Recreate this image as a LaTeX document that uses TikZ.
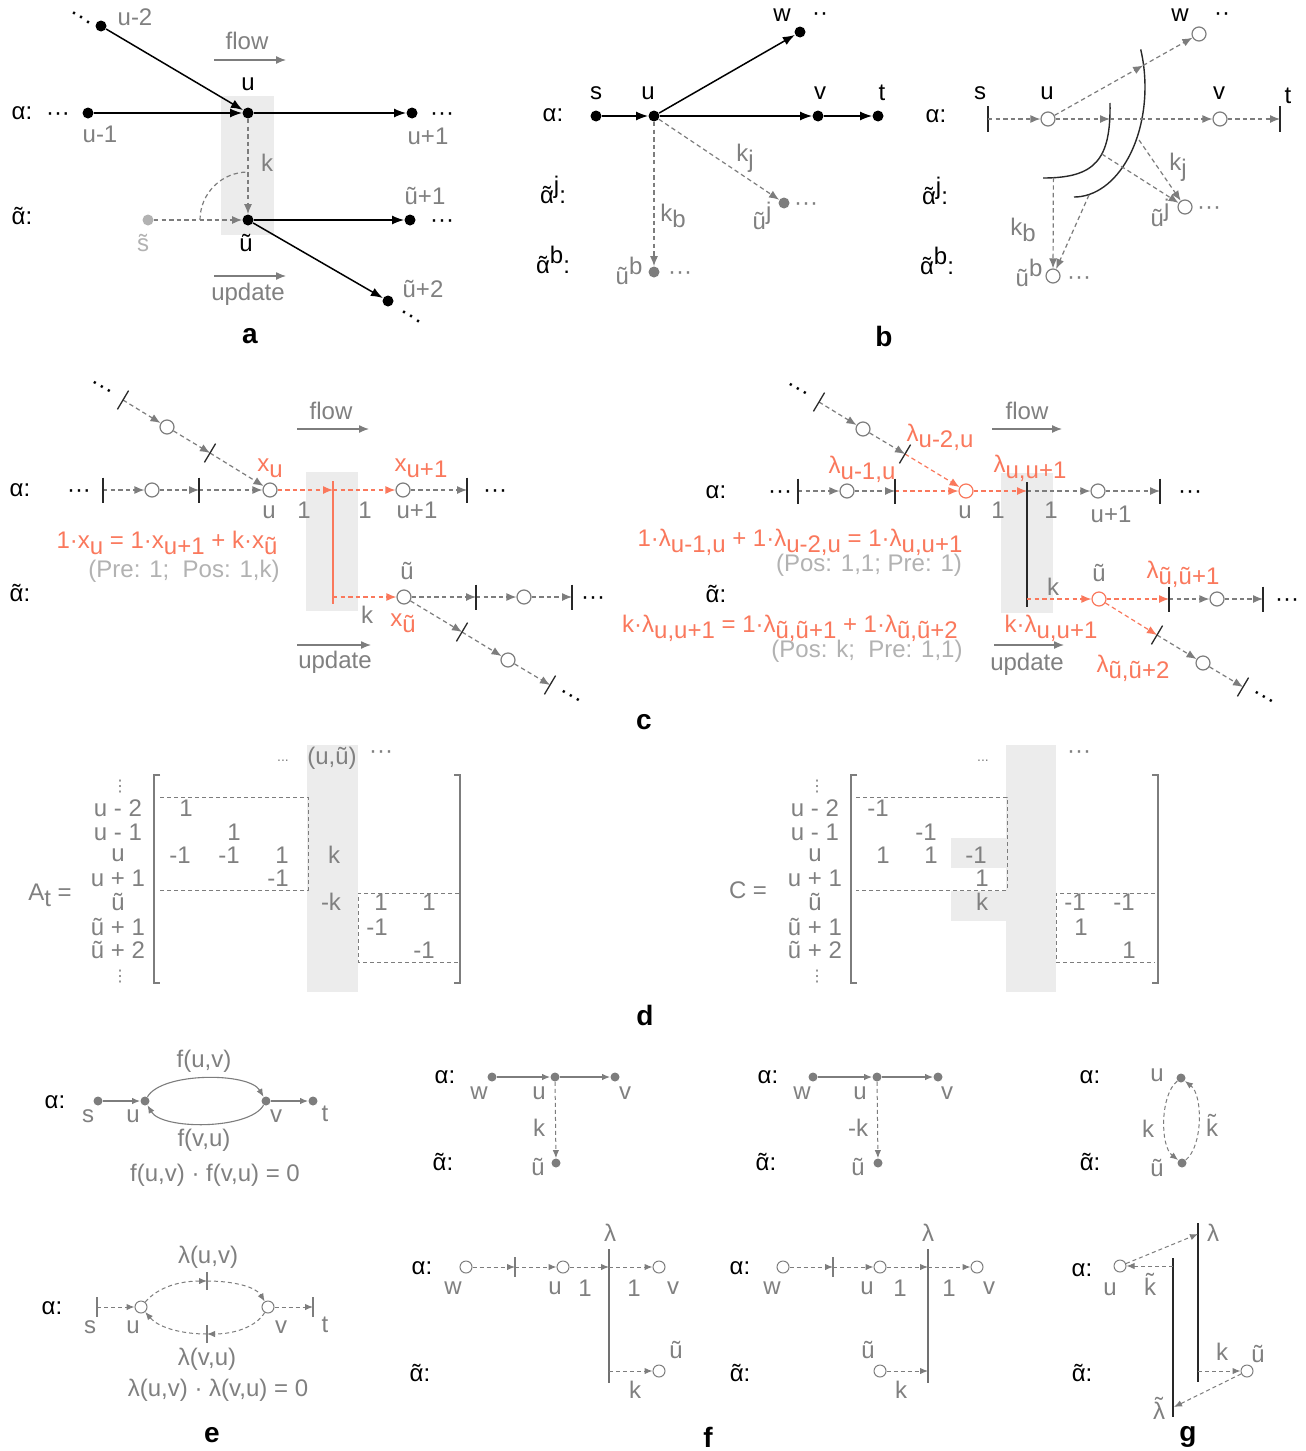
\documentclass[tikz,border=0pt]{standalone}
\usepackage{fontspec}
\setmainfont{Liberation Sans}
\newfontfamily\dvfont{DejaVu Sans}
\usetikzlibrary{arrows.meta,calc}
\definecolor{tg}{RGB}{128,128,128}
\definecolor{lg}{RGB}{178,178,178}
\definecolor{rd}{RGB}{250,120,92}
\definecolor{bx}{RGB}{236,236,236}
\definecolor{ng}{RGB}{125,125,125}
\definecolor{dk}{RGB}{40,40,40}
\newcommand\sbs[1]{\raisebox{-0.55ex}{#1}}
\newcommand\sps[1]{\raisebox{0.75ex}{#1}}
\newcommand\lfont{\fontsize{12}{14}\selectfont}
\newcommand\tld[2][0pt]{{\setbox0\hbox{#2}\rlap{\hbox to\wd0{\hss\raisebox{#1}{^^^^02dc}\hss}}\box0}}
\newcommand\myat{\tld{α}}
\newcommand\myst{\tld{s}}
\newcommand\mykt{\tld[0.21em]{k}}
\newcommand\mylt{\tld[0.21em]{λ}}
\newcommand\mybar[2]{\draw[tick] ([yshift=#2pt]#1) -- ([yshift=-#2pt]#1);}
\newcommand\mygbar[2]{\draw[gtick] ([yshift=#2pt]#1) -- ([yshift=-#2pt]#1);}
\newcommand\myslash[1]{\draw[tick] ([shift={(-5.6,9.4)}]#1) -- ([shift={(5.6,-9.4)}]#1);}
\begin{document}
\begin{tikzpicture}[x=0.5pt,y=-0.5pt,
  lab/.style={font=\lfont, text=tg, inner sep=0pt},
  blab/.style={font=\lfont, text=black, inner sep=0pt},
  rlab/.style={font=\lfont, text=rd, inner sep=0pt},
  llab/.style={font=\lfont, text=lg, inner sep=0pt},
  dots/.style={font=\lfont, text=black, inner sep=0pt, anchor=base},
  gdots/.style={dots, text=tg},
  plet/.style={font=\fontsize{14}{16}\selectfont\bfseries, text=black, inner sep=0pt},
  vd/.style={font=\dvfont\fontsize{8}{8}\selectfont, text=tg, inner sep=0pt},
  bdot/.style={circle, fill=black, inner sep=0pt, minimum size=5.5pt},
  gdot/.style={circle, fill=ng, inner sep=0pt, minimum size=5.5pt},
  ldot/.style={circle, fill=lg, inner sep=0pt, minimum size=5.5pt},
  sdot/.style={circle, fill=ng, inner sep=0pt, minimum size=4.5pt},
  ocirc/.style={circle, draw=ng, fill=white, line width=0.6pt, inner sep=0pt, minimum size=7pt},
  rcirc/.style={ocirc, draw=rd},
  socirc/.style={circle, draw=ng, fill=white, line width=0.5pt, inner sep=0pt, minimum size=6pt},
  arr/.style={-{Latex[length=6pt,width=4.5pt]}, line width=0.75pt, draw=black},
  garr/.style={-{Latex[length=5pt,width=4pt]}, line width=0.6pt, color=ng, dash pattern=on 2.2pt off 1.6pt},
  rarr/.style={garr, color=rd},
  sarr/.style={-{Latex[length=4pt,width=3.2pt]}, line width=0.55pt, color=ng},
  sgarr/.style={-{Latex[length=4pt,width=3.2pt]}, line width=0.5pt, color=ng, dash pattern=on 2pt off 1.5pt},
  farr/.style={-{Latex[length=5pt,width=4pt]}, line width=0.65pt, color=ng},
  tick/.style={line width=0.65pt, draw=dk},
  gtick/.style={line width=0.6pt, draw=ng},
  vl/.style={line width=0.7pt, draw=dk},
  gvl/.style={line width=0.7pt, draw=ng!90!black},
  brk/.style={line width=0.6pt, draw=ng},
  dbox/.style={line width=0.45pt, draw=ng, dash pattern=on 2pt off 1.5pt},
]
\fill[white] (0,0) rectangle (1306,1451);
\path[use as bounding box] (0,0) rectangle (1306,1451);

% ================= a
\fill[bx] (221,96) rectangle (274,235);
\node[blab] (a_al) at (22,113) {α:};
\node[blab] (a_al2) at (22,216) {\myat:};
\node[dots] (a_dl) at (58,120) {···};
\node[bdot] (a_um2) at (101,26) {};
\node[lab] (a_um2l) at (135,17) {u-2};
\node[blab, rotate=-35] (a_um2d) at (80,20) {···};
\node[bdot] (a_um1) at (88,113) {};
\node[lab] (a_um1l) at (100,134) {u-1};
\node[bdot] (a_u) at (248,113) {};
\node[blab] (a_ul) at (248,84) {u};
\node[bdot] (a_up1) at (412,113) {};
\node[lab] (a_up1l) at (428,136) {u+1};
\node[dots] (a_up1d) at (442,120) {···};
\node[ldot] (a_s) at (148,220) {};
\node[llab] (a_sl) at (143,243) {\myst};
\node[bdot] (a_ut) at (248,220) {};
\node[blab] (a_utl) at (246,243) {ũ};
\node[bdot] (a_ut1) at (410,220) {};
\node[lab] (a_ut1l) at (425,196) {ũ+1};
\node[dots] (a_ut1d) at (442,227) {···};
\node[bdot] (a_ut2) at (388,301) {};
\node[lab] (a_ut2l) at (423,289) {ũ+2};
\node[blab, rotate=-35] (a_ut2d) at (410,319) {···};
\node[lab] (a_k) at (267,163) {k};
\node[lab] (a_flow) at (247,41) {flow};
\node[lab] (a_upd) at (248,294) {update};
\node[plet] (a_let) at (250,336) {a};
\coordinate (a_f1) at (214,60); \coordinate (a_f2) at (286,60);
\coordinate (a_p1) at (214,276); \coordinate (a_p2) at (286,276);
\coordinate (a_arc) at (200,220);
\draw[farr] (a_f1) -- (a_f2);
\draw[farr] (a_p1) -- (a_p2);
\draw[arr] (a_um2) -- (a_u);
\draw[arr] (a_um1) -- (a_u);
\draw[arr] (a_u) -- (a_up1);
\draw[arr] (a_ut) -- (a_ut1);
\draw[arr] (a_ut) -- (a_ut2);
\draw[garr] (a_u) -- (a_ut);
\draw[garr] (a_s) -- (a_ut);
\draw[garr, -] (a_arc) arc[start angle=180, end angle=270, radius=48];

% ================= b left
\node[blab] (b_al) at (553,115) {α:};
\node[blab, anchor=base] (b_alj) at (553,203) {\myat\sps{j}:};
\node[blab, anchor=base] (b_alb) at (553,273) {\myat\sps{b}:};
\node[bdot] (b_s) at (596,116) {};
\node[blab] (b_sl) at (596,93) {s};
\node[bdot] (b_u) at (654,116) {};
\node[blab] (b_ul) at (648,93) {u};
\node[bdot] (b_v) at (818,116) {};
\node[blab] (b_vl) at (820,93) {v};
\node[bdot] (b_t) at (878,116) {};
\node[blab] (b_tl) at (882,93) {t};
\node[bdot] (b_w) at (800,32) {};
\node[blab] (b_wl) at (782,15) {w};
\node[blab] (b_wd) at (820,17) {··};
\node[gdot] (b_uj) at (784,203) {};
\node[lab, anchor=base] (b_ujl) at (762,229) {ũ\sps{j}};
\node[gdots] (b_ujd) at (806,210) {···};
\node[gdot] (b_ub) at (654,272) {};
\node[lab, anchor=base] (b_ubl) at (629,284) {ũ\sps{b}};
\node[gdots] (b_ubd) at (680,279) {···};
\node[lab, anchor=base] (b_kj) at (745,161) {k\sbs{j}};
\node[lab, anchor=base] (b_kb) at (673,221) {k\sbs{b}};
\draw[arr] (b_s) -- (b_u);
\draw[arr] (b_u) -- (b_v);
\draw[arr] (b_v) -- (b_t);
\draw[arr] (b_u) -- (b_w);
\draw[garr] (b_u) -- (b_uj);
\draw[garr] (b_u) -- (b_ub);

% ================= b right
\node[blab] (br_al) at (936,116) {α:};
\node[blab, anchor=base] (br_alj) at (935,204) {\myat\sps{j}:};
\node[blab, anchor=base] (br_alb) at (937,274) {\myat\sps{b}:};
\coordinate (br_s) at (988,119);
\node[blab] (br_sl) at (980,93) {s};
\node[ocirc] (br_u) at (1048,119) {};
\node[blab] (br_ul) at (1047,93) {u};
\coordinate (br_m) at (1110,119);
\node[ocirc] (br_v) at (1220,119) {};
\node[blab] (br_vl) at (1219,93) {v};
\coordinate (br_t) at (1280,119);
\node[blab] (br_tl) at (1288,96) {t};
\node[ocirc] (br_w) at (1199,34) {};
\node[blab] (br_wl) at (1180,15) {w};
\node[blab] (br_wd) at (1222,17) {··};
\node[ocirc] (br_uj) at (1185,207) {};
\node[lab, anchor=base] (br_ujl) at (1160,226) {ũ\sps{j}};
\node[gdots] (br_ujd) at (1209,214) {···};
\node[ocirc] (br_ub) at (1053,276) {};
\node[lab, anchor=base] (br_ubl) at (1029,286) {ũ\sps{b}};
\node[gdots] (br_ubd) at (1079,284) {···};
\node[lab, anchor=base] (br_kj) at (1178,170) {k\sbs{j}};
\node[lab, anchor=base] (br_kb) at (1023,235) {k\sbs{b}};
\draw[vl] (1110,103) .. controls (1111,160) and (1095,178) .. (1043,178)
   coordinate[pos=0.4] (br_ia) coordinate[pos=0.93] (br_ie);
\draw[vl] (1140.7,49.4) arc[start angle=-20, end angle=90, x radius=71, y radius=110];
\coordinate (br_oa) at (1139,140);
\coordinate (br_ob) at (1089,195);
\coordinate (br_wx) at ($(br_u)!0.63!(br_w)$);
\mybar{br_s}{6.5}
\mybar{br_t}{6.5}
\draw[garr] (br_s) -- (br_u);
\draw[garr] (br_u) -- (br_m);
\draw[garr] (br_m) -- (br_v);
\draw[garr] (br_v) -- (br_t);
\draw[garr] (br_u) -- (br_wx);
\draw[garr] (br_wx) -- (br_w);
\draw[garr] (br_ia) -- (br_uj);
\draw[garr] (br_oa) -- (br_uj);
\draw[garr] (br_ie) -- (br_ub);
\draw[garr] (br_ob) -- (br_ub);
\node[plet] (b_let) at (884,336) {b};

% ================= c left
\fill[bx] (306,472) rectangle (358,611);
\node[blab, rotate=-31] (cl_d0) at (101,389) {···};
\coordinate (cl_s1) at (123,400);
\node[ocirc] (cl_c1) at (167,427) {};
\coordinate (cl_s2) at (210,453);
\node[ocirc] (cl_u) at (270,490) {};
\node[blab] (cl_al) at (20,490) {α:};
\node[dots] (cl_d1) at (79,497) {···};
\coordinate (cl_b1) at (103,490);
\node[ocirc] (cl_c2) at (152,490) {};
\coordinate (cl_b2) at (199,490);
\coordinate (cl_r) at (333,490);
\node[ocirc] (cl_up1) at (403,490) {};
\coordinate (cl_b3) at (467,490);
\node[dots] (cl_d2) at (495,497) {···};
\coordinate (cl_rt) at (333,481);
\coordinate (cl_rb) at (333,604);
\node[blab] (cl_al2) at (20,593) {\myat:};
\coordinate (cl_r2) at (333,597);
\node[ocirc] (cl_ut) at (404,597) {};
\coordinate (cl_b4) at (476,597);
\node[ocirc] (cl_c3) at (524,597) {};
\coordinate (cl_b5) at (572,597);
\node[dots] (cl_d3) at (593,604) {···};
\coordinate (cl_s3) at (462,632);
\node[ocirc] (cl_c4) at (508,660) {};
\coordinate (cl_s4) at (550,685);
\node[blab, rotate=-31] (cl_d4) at (570,698) {···};
\node[rlab, anchor=base] (cl_xu) at (270,471) {x\sbs{u}};
\node[rlab, anchor=base] (cl_xu1) at (421,471) {x\sbs{u+1}};
\node[lab] (cl_ul) at (269,512) {u};
\node[lab] (cl_1a) at (304,510) {1};
\node[lab] (cl_1b) at (365,510) {1};
\node[lab] (cl_up1l) at (417,510) {u+1};
\node[rlab, anchor=base] (cl_eq) at (167,548) {1·x\sbs{u} = 1·x\sbs{u+1} + k·x\sbs{ũ}};
\node[llab] (cl_pp) at (184,571) {(Pre: 1;\ \ Pos: 1,k)};
\node[lab] (cl_utl) at (407,571) {ũ};
\node[lab] (cl_k) at (367,615) {k};
\node[rlab, anchor=base] (cl_xut) at (403,626) {x\sbs{ũ}};
\node[lab] (cl_flow) at (331,411) {flow};
\node[lab] (cl_upd) at (335,662) {update};
\coordinate (cl_f1) at (297,429); \coordinate (cl_f2) at (369,429);
\coordinate (cl_p1) at (297,645); \coordinate (cl_p2) at (371,645);
\draw[farr] (cl_f1) -- (cl_f2);
\draw[farr] (cl_p1) -- (cl_p2);
\draw[garr] (cl_s1) -- (cl_c1);
\draw[garr] (cl_c1) -- (cl_s2);
\draw[garr] (cl_s2) -- (cl_u);
\draw[garr] (cl_b1) -- (cl_c2);
\draw[garr] (cl_c2) -- (cl_b2);
\draw[garr] (cl_b2) -- (cl_u);
\draw[rarr] (cl_u) -- (cl_r);
\draw[rarr] (cl_r) -- (cl_up1);
\draw[garr] (cl_up1) -- (cl_b3);
\draw[rd, line width=0.6pt] (cl_rt) -- (cl_rb);
\draw[rarr] (cl_r2) -- (cl_ut);
\draw[garr] (cl_ut) -- (cl_b4);
\draw[garr] (cl_b4) -- (cl_c3);
\draw[garr] (cl_c3) -- (cl_b5);
\draw[garr] (cl_ut) -- (cl_s3);
\draw[garr] (cl_s3) -- (cl_c4);
\draw[garr] (cl_c4) -- (cl_s4);
\mybar{cl_b1}{6.25} \mybar{cl_b2}{6.25} \mybar{cl_b3}{6.25}
\mybar{cl_b4}{6.25} \mybar{cl_b5}{6.25}
\myslash{cl_s1} \myslash{cl_s2} \myslash{cl_s3} \myslash{cl_s4}

% ================= c right
\fill[bx] (1001,473) rectangle (1053,613);
\node[blab, rotate=-31] (cr_d0) at (797,391) {···};
\coordinate (cr_s1) at (819,402);
\node[ocirc] (cr_c1) at (863,429) {};
\coordinate (cr_s2) at (905,454);
\node[rcirc] (cr_u) at (966,491) {};
\node[blab] (cr_al) at (716,492) {α:};
\node[dots] (cr_d1) at (780,498) {···};
\coordinate (cr_b1) at (798,491);
\node[ocirc] (cr_c2) at (847,491) {};
\coordinate (cr_b2) at (895,491);
\coordinate (cr_l) at (1027,491);
\node[ocirc] (cr_up1) at (1098,491) {};
\coordinate (cr_b3) at (1160,491);
\node[dots] (cr_d2) at (1190,498) {···};
\coordinate (cr_lt) at (1027,482);
\coordinate (cr_lb) at (1027,607);
\node[blab] (cr_al2) at (716,594) {\myat:};
\coordinate (cr_l2) at (1027,599);
\node[rcirc] (cr_ut) at (1099,599) {};
\coordinate (cr_b4) at (1169,599);
\node[ocirc] (cr_c3) at (1217,599) {};
\coordinate (cr_b5) at (1263,599);
\node[dots] (cr_d3) at (1287,606) {···};
\coordinate (cr_s3) at (1157,635);
\node[ocirc] (cr_c4) at (1203,663) {};
\coordinate (cr_s4) at (1243,687);
\node[blab, rotate=-31] (cr_d4) at (1263,699) {···};
\node[rlab, anchor=base] (cr_l2u) at (940,441) {λ\sbs{u-2,u}};
\node[rlab, anchor=base] (cr_l1u) at (862,473) {λ\sbs{u-1,u}};
\node[rlab, anchor=base] (cr_luu) at (1030,472) {λ\sbs{u,u+1}};
\node[lab] (cr_ul) at (965,512) {u};
\node[lab] (cr_1a) at (998,510) {1};
\node[lab] (cr_1b) at (1051,510) {1};
\node[lab] (cr_up1l) at (1111,514) {u+1};
\node[rlab, anchor=base] (cr_eq1) at (800,546) {1·λ\sbs{u-1,u} + 1·λ\sbs{u-2,u} = 1·λ\sbs{u,u+1}};
\node[llab] (cr_pp1) at (869,565) {(Pos: 1,1; Pre: 1)};
\node[lab] (cr_utl) at (1099,573) {ũ};
\node[lab] (cr_k) at (1053,587) {k};
\node[rlab, anchor=base] (cr_lt1) at (1183,578) {λ\sbs{ũ,ũ+1}};
\node[rlab, anchor=base] (cr_eq2) at (790,632) {k·λ\sbs{u,u+1} = 1·λ\sbs{ũ,ũ+1} + 1·λ\sbs{ũ,ũ+2}};
\node[llab] (cr_pp2) at (867,651) {(Pos: k;\ \ Pre: 1,1)};
\node[rlab, anchor=base] (cr_klu) at (1051,632) {k·λ\sbs{u,u+1}};
\node[rlab, anchor=base] (cr_lt2) at (1133,672) {λ\sbs{ũ,ũ+2}};
\node[lab] (cr_flow) at (1027,411) {flow};
\node[lab] (cr_upd) at (1027,664) {update};
\coordinate (cr_f1) at (992,429); \coordinate (cr_f2) at (1062,429);
\coordinate (cr_p1) at (994,645); \coordinate (cr_p2) at (1064,645);
\draw[farr] (cr_f1) -- (cr_f2);
\draw[farr] (cr_p1) -- (cr_p2);
\draw[garr] (cr_s1) -- (cr_c1);
\draw[garr] (cr_c1) -- (cr_s2);
\draw[rarr] (cr_s2) -- (cr_u);
\draw[garr] (cr_b1) -- (cr_c2);
\draw[garr] (cr_c2) -- (cr_b2);
\draw[rarr] (cr_b2) -- (cr_u);
\draw[rarr] (cr_u) -- (cr_l);
\draw[garr] (cr_l) -- (cr_up1);
\draw[garr] (cr_up1) -- (cr_b3);
\draw[vl] (cr_lt) -- (cr_lb);
\draw[rarr] (cr_l2) -- (cr_ut);
\draw[rarr] (cr_ut) -- (cr_b4);
\draw[garr] (cr_b4) -- (cr_c3);
\draw[garr] (cr_c3) -- (cr_b5);
\draw[rarr] (cr_ut) -- (cr_s3);
\draw[garr] (cr_s3) -- (cr_c4);
\draw[garr] (cr_c4) -- (cr_s4);
\mybar{cr_b1}{6.25} \mybar{cr_b2}{6.25} \mybar{cr_b3}{6.25}
\mybar{cr_b4}{6.25} \mybar{cr_b5}{6.25}
\myslash{cr_s1} \myslash{cr_s2} \myslash{cr_s3} \myslash{cr_s4}
\node[plet] (c_let) at (644,722) {c};

% ================= d
\fill[bx] (307,745) rectangle (358,992);
\draw[brk] (160,775) -- (154,775) -- (154,983) -- (160,983);
\draw[brk] (454,775) -- (460,775) -- (460,983) -- (454,983);
\draw[dbox] (160,797) -- (308,797) -- (308,890) -- (160,890);
\draw[dbox] (459,893) -- (358,893) -- (358,962) -- (459,962);
\node[lab, anchor=base] (d_A) at (50,900) {A\sbs{t} =};
\node[lab] (d_h1) at (283,761) {\fontsize{7}{8}\selectfont ...};
\node[lab] (d_h2) at (332,758) {(u,ũ)};
\node[gdots] (d_h3) at (381,758) {···};
\node[vd] (d_v1) at (120,787) {^^^^22ee};
\node[vd] (d_v2) at (120,977) {^^^^22ee};
\fill[bx] (1006,745) rectangle (1056,992);
\fill[bx] (951,838) rectangle (1006,868);
\fill[bx] (951,891) rectangle (1006,921);
\draw[brk] (857,775) -- (851,775) -- (851,983) -- (857,983);
\draw[brk] (1152,775) -- (1158,775) -- (1158,983) -- (1152,983);
\draw[dbox] (856,797) -- (1007,797) -- (1007,890) -- (856,890);
\draw[dbox] (1155,893) -- (1056,893) -- (1056,962) -- (1155,962);
\node[lab] (d_C) at (748,890) {C =};
\node[lab] (d_h4) at (983,761) {\fontsize{7}{8}\selectfont ...};
\node[gdots] (d_h5) at (1079,758) {···};
\node[vd] (d_v3) at (817,787) {^^^^22ee};
\node[vd] (d_v4) at (817,977) {^^^^22ee};
\foreach \n/\y/\t in {1/808/u - 2, 2/832/u - 1, 3/855/u, 4/878/u + 1, 5/902/ũ, 6/927/ũ + 1, 7/950/ũ + 2} {
  \node[lab] (d_ra\n) at (118,\y) {\t};
  \node[lab] (d_rc\n) at (815,\y) {\t};
}
\foreach \n/\x/\y/\t in {1/186/808/1, 2/234/832/1, 3/180/855/-1, 4/229/855/-1, 5/282/855/1, 6/334/855/k, 7/278/878/-1, 8/331/902/-k, 9/381/902/1, 10/429/902/1, 11/377/927/-1, 12/424/950/-1} {
  \node[lab] (d_ea\n) at (\x,\y) {\t};
}
\foreach \n/\x/\y/\t in {1/878/808/-1, 2/926/832/-1, 3/883/855/1, 4/931/855/1, 5/976/855/-1, 6/982/878/1, 7/982/902/k, 8/1075/902/-1, 9/1124/902/-1, 10/1081/927/1, 11/1129/950/1} {
  \node[lab] (d_ec\n) at (\x,\y) {\t};
}
\node[plet] (d_let) at (645,1015) {d};

% ================= e
\node[blab] (e_al) at (55,1102) {α:};
\node[sdot] (e_s) at (98,1101) {};
\node[sdot] (e_u) at (145,1101) {};
\node[sdot] (e_v) at (266,1101) {};
\node[sdot] (e_t) at (313,1101) {};
\node[lab] (e_sl) at (88,1116) {s};
\node[lab] (e_ul) at (133,1116) {u};
\node[lab] (e_vl) at (276,1116) {v};
\node[lab] (e_tl) at (325,1114) {t};
\node[lab] (e_fuv) at (204,1061) {f(u,v)};
\node[lab] (e_fvu) at (204,1140) {f(v,u)};
\node[lab] (e_eq1) at (215,1175) {f(u,v) · f(v,u) = 0};
\draw[sarr] (e_s) -- (e_u);
\draw[sarr] (e_v) -- (e_t);
\draw[sarr] (e_u) .. controls (162,1072) and (249,1072) .. (e_v);
\draw[sarr] (e_v) .. controls (249,1130) and (162,1130) .. (e_u);
\node[blab] (e_al2) at (52,1308) {α:};
\coordinate (e_sb) at (97,1307);
\node[socirc] (e_u2) at (141,1307) {};
\node[socirc] (e_v2) at (268,1307) {};
\coordinate (e_tb) at (313,1307);
\coordinate (e_top) at (207,1281);
\coordinate (e_bot) at (207,1334);
\node[lab] (e_sl2) at (90,1327) {s};
\node[lab] (e_ul2) at (133,1327) {u};
\node[lab] (e_vl2) at (281,1327) {v};
\node[lab] (e_tl2) at (325,1325) {t};
\node[lab] (e_luv) at (208,1257) {λ(u,v)};
\node[lab] (e_lvu) at (207,1359) {λ(v,u)};
\node[lab] (e_eq2) at (218,1390) {λ(u,v) · λ(v,u) = 0};
\draw[sgarr] (e_sb) -- (e_u2);
\draw[sgarr] (e_v2) -- (e_tb);
\draw[sgarr] (e_u2) .. controls (158,1287) and (180,1281) .. (e_top);
\draw[sgarr] (e_top) .. controls (234,1281) and (256,1287) .. (e_v2);
\draw[sgarr] (e_v2) .. controls (256,1327) and (234,1334) .. (e_bot);
\draw[sgarr] (e_bot) .. controls (180,1334) and (158,1327) .. (e_u2);
\mygbar{e_sb}{5} \mygbar{e_tb}{5} \mygbar{e_top}{4.5} \mygbar{e_bot}{4.5}
\node[plet] (e_let) at (212,1435) {e};

% ================= f
\node[blab] (f1_al) at (445,1077) {α:};
\node[sdot] (f1_w) at (492,1077) {};
\node[sdot] (f1_u) at (555,1077) {};
\node[sdot] (f1_v) at (615,1077) {};
\node[lab] (f1_wl) at (479,1093) {w};
\node[lab] (f1_ul) at (539,1093) {u};
\node[lab] (f1_vl) at (625,1093) {v};
\node[blab] (f1_al2) at (443,1162) {\myat:};
\node[sdot] (f1_ut) at (556,1163) {};
\node[lab] (f1_utl) at (538,1167) {ũ};
\node[lab] (f1_k) at (539,1128) {k};
\draw[sarr] (f1_w) -- (f1_u);
\draw[sarr] (f1_u) -- (f1_v);
\draw[sgarr] (f1_u) -- (f1_ut);

\node[blab] (f2_al) at (768,1077) {α:};
\node[sdot] (f2_w) at (813,1077) {};
\node[sdot] (f2_u) at (877,1077) {};
\node[sdot] (f2_v) at (938,1077) {};
\node[lab] (f2_wl) at (802,1093) {w};
\node[lab] (f2_ul) at (860,1093) {u};
\node[lab] (f2_vl) at (947,1093) {v};
\node[blab] (f2_al2) at (766,1162) {\myat:};
\node[sdot] (f2_ut) at (878,1163) {};
\node[lab] (f2_utl) at (858,1167) {ũ};
\node[lab] (f2_k) at (858,1128) {-k};
\draw[sarr] (f2_w) -- (f2_u);
\draw[sarr] (f2_u) -- (f2_v);
\draw[sgarr] (f2_u) -- (f2_ut);

\node[lab] (f3_lam) at (610,1233) {λ};
\node[blab] (f3_al) at (422,1268) {α:};
\node[socirc] (f3_w) at (466,1267) {};
\coordinate (f3_b) at (515,1267);
\node[socirc] (f3_u) at (563,1267) {};
\coordinate (f3_l) at (609,1267);
\node[socirc] (f3_v) at (659,1267) {};
\coordinate (f3_lt) at (609,1249);
\coordinate (f3_lb) at (609,1383);
\node[blab] (f3_al2) at (420,1373) {\myat:};
\coordinate (f3_l2) at (609,1371);
\node[socirc] (f3_ut) at (659,1371) {};
\node[lab] (f3_wl) at (453,1288) {w};
\node[lab] (f3_ul) at (555,1288) {u};
\node[lab] (f3_1a) at (585,1288) {1};
\node[lab] (f3_1b) at (634,1288) {1};
\node[lab] (f3_vl) at (673,1288) {v};
\node[lab] (f3_utl) at (676,1350) {ũ};
\node[lab] (f3_k) at (635,1390) {k};
\draw[gvl] (f3_lt) -- (f3_lb);
\draw[sgarr] (f3_w) -- (f3_b);
\draw[sgarr] (f3_b) -- (f3_u);
\draw[sgarr] (f3_u) -- (f3_l);
\draw[sgarr] (f3_l) -- (f3_v);
\draw[sgarr] (f3_l2) -- (f3_ut);
\mygbar{f3_b}{5}

\node[lab] (f4_lam) at (928,1233) {λ};
\node[blab] (f4_al) at (740,1268) {α:};
\node[socirc] (f4_w) at (783,1267) {};
\coordinate (f4_b) at (833,1267);
\node[socirc] (f4_u) at (880,1267) {};
\coordinate (f4_l) at (928,1267);
\node[socirc] (f4_v) at (977,1267) {};
\coordinate (f4_lt) at (928,1249);
\coordinate (f4_lb) at (928,1383);
\node[blab] (f4_al2) at (740,1373) {\myat:};
\coordinate (f4_l2) at (928,1371);
\node[socirc] (f4_ut) at (880,1371) {};
\node[lab] (f4_wl) at (772,1288) {w};
\node[lab] (f4_ul) at (867,1288) {u};
\node[lab] (f4_1a) at (900,1288) {1};
\node[lab] (f4_1b) at (949,1288) {1};
\node[lab] (f4_vl) at (989,1288) {v};
\node[lab] (f4_utl) at (868,1350) {ũ};
\node[lab] (f4_k) at (901,1390) {k};
\draw[gvl] (f4_lt) -- (f4_lb);
\draw[sgarr] (f4_w) -- (f4_b);
\draw[sgarr] (f4_b) -- (f4_u);
\draw[sgarr] (f4_u) -- (f4_l);
\draw[sgarr] (f4_l) -- (f4_v);
\draw[sgarr] (f4_ut) -- (f4_l2);
\mygbar{f4_b}{5}
\node[plet] (f_let) at (708,1437) {f};

% ================= g
\node[blab] (g_al) at (1090,1077) {α:};
\node[sdot] (g_u) at (1181,1078) {};
\node[lab] (g_ul) at (1157,1075) {u};
\node[blab] (g_al2) at (1090,1162) {\myat:};
\node[sdot] (g_ut) at (1182,1163) {};
\node[lab] (g_utl) at (1157,1168) {ũ};
\node[lab] (g_k) at (1148,1129) {k};
\node[lab] (g_kt) at (1212,1125) {\mykt};
\draw[sgarr] (g_u) .. controls (1160,1095) and (1160,1146) .. (g_ut);
\draw[sgarr] (g_ut) .. controls (1203,1146) and (1203,1095) .. (g_u);

\node[blab] (g_al3) at (1082,1270) {α:};
\node[socirc] (g_u2) at (1120,1266) {};
\node[lab] (g_ul2) at (1110,1289) {u};
\node[lab] (g_kt2) at (1150,1284) {\mykt};
\node[blab] (g_al4) at (1082,1373) {\myat:};
\coordinate (g_l1t) at (1173,1258);
\coordinate (g_l1b) at (1173,1417);
\coordinate (g_l2t) at (1198,1223);
\coordinate (g_l2b) at (1198,1382);
\coordinate (g_l2a) at (1198,1234);
\coordinate (g_l1a) at (1173,1266);
\coordinate (g_l2c) at (1198,1371);
\coordinate (g_l1c) at (1174,1407);
\node[socirc] (g_ut2) at (1247,1371) {};
\node[lab] (g_lam) at (1213,1233) {λ};
\node[lab] (g_lamt) at (1159,1408) {\mylt};
\node[lab] (g_k2) at (1222,1352) {k};
\node[lab] (g_utl2) at (1258,1354) {ũ};
\draw[vl] (g_l1t) -- (g_l1b);
\draw[vl] (g_l2t) -- (g_l2b);
\draw[sgarr] (g_u2) -- (g_l2a);
\draw[sgarr] (g_l1a) -- (g_u2);
\draw[sgarr] (g_l2c) -- (g_ut2);
\draw[sgarr] (g_ut2) -- (g_l1c);
\node[plet] (g_let) at (1188,1437) {g};
\end{tikzpicture}
\end{document}
